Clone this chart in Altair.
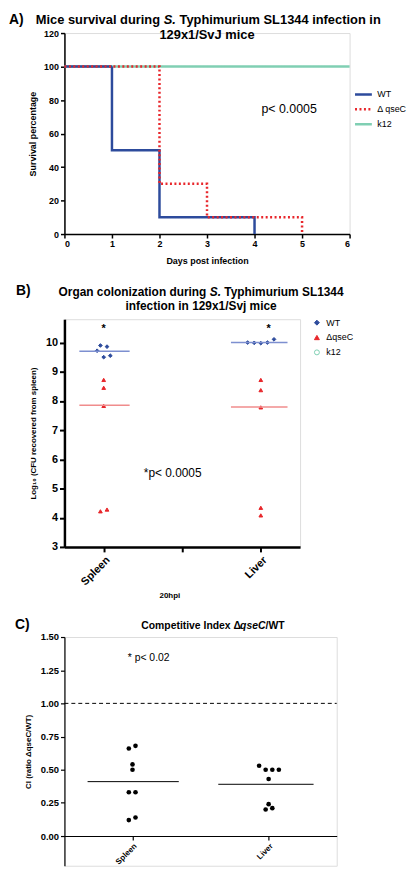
import altair as alt
import pandas as pd

FONT = "Liberation Sans"
BLUE = "#2d4b9c"
RED = "#e8262b"
GREEN = "#80cfb3"

# ---------------- Panel A : survival ----------------
strains_a = ["WT", "Δ qseC", "k12"]
wt_days = [0, 1, 2, 4]
wt_surv = [100, 50, 10, 0]
qsec_days = [0, 2, 3, 5]
qsec_surv = [100, 30, 10, 0]
k12_days = [0, 6]
k12_surv = [100, 100]
a_xticks = [0, 1, 2, 3, 4, 5, 6]
a_yticks = [0, 20, 40, 60, 80, 100, 120]

# ---------------- Panel B : organ colonisation ----------------
strains_b = ["WT", "ΔqseC", "k12"]
b_wt_spleen = [9.72, 9.90, 9.86, 9.50, 9.55]
b_wt_spleen_jit = [-0.084, -0.042, 0.042, 0.0, 0.084]
b_qs_spleen = [8.72, 8.45, 7.83, 4.22, 4.28]
b_qs_spleen_jit = [0.0, 0.0, 0.0, -0.042, 0.042]
b_wt_liver = [10.00, 9.99, 9.98, 10.00, 10.11]
b_wt_liver_jit = [-0.168, -0.084, 0.0, 0.084, 0.168]
b_qs_liver = [8.72, 8.37, 7.78, 4.34, 4.08]
b_qs_liver_jit = [0.0, 0.0, 0.0, 0.0, 0.0]
b_median_wt = [9.70, 10.00]
b_median_qs = [7.85, 7.79]
b_med_start = [-0.31, 1.62]
b_med_end = [0.33, 2.34]
b_yticks = [3, 4, 5, 6, 7, 8, 9, 10]

# ---------------- Panel C : competitive index ----------------
c_spleen = [0.66, 0.68, 0.54, 0.50, 0.33, 0.33, 0.12, 0.14]
c_spleen_jit = [-0.027, 0.022, 0.0, 0.0, -0.027, 0.022, -0.027, 0.022]
c_liver = [0.53, 0.50, 0.50, 0.50, 0.43, 0.24, 0.20, 0.21]
c_liver_jit = [-0.07, -0.022, 0.027, 0.075, 0.0, 0.0, -0.022, 0.027]
c_median = [0.41, 0.39]
c_med_start = [0.17, 1.13]
c_med_end = [0.84, 1.83]
c_yticks = [0.0, 0.25, 0.5, 0.75, 1.0, 1.25, 1.5]


def label(text, x, y, size, weight="normal", style="normal", align="left",
          baseline="alphabetic", color="black"):
    return alt.Chart(pd.DataFrame({"t": [text]})).mark_text(
        font=FONT, fontSize=size, fontWeight=weight, fontStyle=style,
        align=align, baseline=baseline, color=color
    ).encode(x=alt.value(x), y=alt.value(y), text="t:N")


def axis_style(dw, tw, lsize, tsize, tick=4):
    return dict(domainColor="black", domainWidth=dw, tickColor="black", tickWidth=tw,
                tickSize=tick, labelFont=FONT, labelFontSize=lsize, labelFontWeight="bold",
                labelColor="black", titleFont=FONT, titleFontSize=tsize,
                titleFontWeight="bold", titleColor="black", grid=False, labelPadding=2,
                labelOverlap=False, labelBound=False)


# ===== Panel A =====
WA, HA = 288, 203
df_a = pd.DataFrame({
    "day": k12_days + wt_days + qsec_days,
    "pct": k12_surv + wt_surv + qsec_surv,
    "strain": ["k12"] * len(k12_days) + ["WT"] * len(wt_days) + ["Δ qseC"] * len(qsec_days),
})
axA = axis_style(1.5, 1.5, 9, 9)
legA = alt.Legend(title=None, orient="none", legendX=292, legendY=52, symbolType="stroke",
                  symbolSize=289, symbolStrokeWidth=2.5, labelFont=FONT, labelFontSize=9,
                  labelColor="black", rowPadding=0, labelOffset=4)
lines_a = alt.Chart(df_a).mark_line(interpolate="step-after").encode(
    x=alt.X("day:Q", scale=alt.Scale(domain=[0, 6], nice=False, zero=False),
            axis=alt.Axis(values=a_xticks, title="Days post infection", titlePadding=8, **axA)),
    y=alt.Y("pct:Q", scale=alt.Scale(domain=[0, 120], nice=False),
            axis=alt.Axis(values=a_yticks, title="Survival percentage", titlePadding=6, **axA)),
    color=alt.Color("strain:N", scale=alt.Scale(domain=strains_a, range=[BLUE, RED, GREEN]), legend=legA),
    strokeDash=alt.StrokeDash("strain:N", scale=alt.Scale(domain=strains_a, range=[[1, 0], [2, 2.5], [1, 0]]), legend=legA),
    strokeWidth=alt.StrokeWidth("strain:N", scale=alt.Scale(domain=strains_a, range=[2.5, 2.5, 1.6]), legend=None),
)
panel_a = alt.layer(
    lines_a,
    label("A)", -56, -9, 14, "bold"),
    label("Mice survival during", -29, -9, 13, "bold"),
    label("S.", 100.3, -9, 13, "bold", "italic"),
    label("Typhimurium SL1344 infection in", 116.2, -9, 13, "bold"),
    label("129x1/SvJ mice", 144, 6, 13, "bold", align="center"),
    label("p< 0.0005", 199, 77, 12.5, baseline="middle"),
).properties(width=WA, height=HA)

# ===== Panel B =====
WB, HB = 238, 230
pos, val, strain = [], [], []
for center, wt, wtj, qs, qsj in [(0, b_wt_spleen, b_wt_spleen_jit, b_qs_spleen, b_qs_spleen_jit),
                                 (2, b_wt_liver, b_wt_liver_jit, b_qs_liver, b_qs_liver_jit)]:
    pos += [center + j for j in wtj] + [center + j for j in qsj]
    val += wt + qs
    strain += ["WT"] * len(wt) + ["ΔqseC"] * len(qs)
df_b = pd.DataFrame({"pos": pos, "cfu": val, "strain": strain})
df_bmed = pd.DataFrame({"pos": b_med_start * 2, "pos2": b_med_end * 2,
                        "cfu": b_median_wt + b_median_qs,
                        "strain": ["WT", "WT", "ΔqseC", "ΔqseC"]})
axB = axis_style(2.5, 2, 11, 8, tick=5)
legB = alt.Legend(title=None, orient="none", legendX=250.5, legendY=-1, symbolSize=25,
                  labelFont=FONT, labelFontSize=9, labelColor="black", rowPadding=5,
                  labelOffset=5, symbolStrokeWidth=1)
xB = alt.X("pos:Q", scale=alt.Scale(domain=[-0.5, 2.5], nice=False, zero=False),
           axis=alt.Axis(values=[0, 1, 2], labelAngle=315,
                         labelExpr="datum.value == 0 ? 'Spleen' : datum.value == 2 ? 'Liver' : ''",
                         title="20hpi", titleX=106, titleY=49, titleBaseline="middle", **axB))
yB = alt.Y("cfu:Q", scale=alt.Scale(domain=[3, 10.8], nice=False, zero=False),
           axis=alt.Axis(values=b_yticks, title="Log₁₀ (CFU recovered from spleen)", titlePadding=8, **axB))
pts_b = alt.Chart(df_b).mark_point(size=14, strokeWidth=1, filled=True, opacity=1).encode(
    x=xB, y=yB,
    shape=alt.Shape("strain:N", scale=alt.Scale(domain=strains_b, range=["diamond", "triangle-up", "circle"]), legend=legB),
    stroke=alt.Stroke("strain:N", scale=alt.Scale(domain=strains_b, range=[BLUE, RED, GREEN]), legend=legB),
    fill=alt.Fill("strain:N", scale=alt.Scale(domain=strains_b, range=[BLUE, RED, "white"]), legend=legB),
)
med_wt = alt.Chart(df_bmed).transform_filter("datum.strain == 'WT'").mark_rule(
    color="#7d8fd0", strokeWidth=1.5).encode(x=xB, x2="pos2:Q", y=yB)
med_qs = alt.Chart(df_bmed).transform_filter("datum.strain == 'ΔqseC'").mark_rule(
    color="#f08c8c", strokeWidth=1.5).encode(x=xB, x2="pos2:Q", y=yB)
stars_b = alt.Chart(pd.DataFrame({"pos": [0.0, 2.1], "cfu": [10.55, 10.55], "t": ["*", "*"]})).mark_text(
    font=FONT, fontSize=11, fontWeight="bold", baseline="middle", dy=3).encode(x=xB, y=yB, text="t:N")
ptext_b = alt.Chart(pd.DataFrame({"pos": [0.51], "cfu": [5.53], "t": ["*p< 0.0005"]})).mark_text(
    font=FONT, fontSize=12, align="left", baseline="middle").encode(x=xB, y=yB, text="t:N")
panel_b = alt.layer(
    pts_b, med_wt, med_qs, stars_b, ptext_b,
    label("B)", -49, -24, 14, "bold"),
    label("Organ colonization during", -5.9, -23, 12, "bold"),
    label("S.", 146.8, -23, 12, "bold", "italic"),
    label("Typhimurium SL1344", 161.5, -23, 12, "bold"),
    label("infection in 129x1/Svj mice", 138, -9, 12, "bold", align="center"),
).properties(width=WB, height=HB)

# ===== Panel C =====
WC, HC = 275, 231
C_PX = 134.0  # pixels per CI unit
c_lo = 1.5 - HC / C_PX
cpos = [0.5 + j for j in c_spleen_jit] + [1.5 + j for j in c_liver_jit]
df_c = pd.DataFrame({"pos": cpos, "ci": c_spleen + c_liver})
df_cmed = pd.DataFrame({"pos": c_med_start, "pos2": c_med_end, "ci": c_median})
axC = axis_style(1.2, 1.2, 9.5, 8)
xC = alt.X("pos:Q", scale=alt.Scale(domain=[0, 2], nice=False, zero=False),
           axis=alt.Axis(values=[0.5, 1.5], labelAngle=315, offset=-(HC - 1.5 * C_PX),
                         labelExpr="datum.value == 0.5 ? 'Spleen' : 'Liver'", title=None,
                         **{**axC, "labelFontSize": 8}))
yC = alt.Y("ci:Q", scale=alt.Scale(domain=[c_lo, 1.5], nice=False, zero=False),
           axis=alt.Axis(values=c_yticks, format=".2f", title="CI (ratio ΔqseC/WT)", titlePadding=8, **axC))
pts_c = alt.Chart(df_c).mark_circle(size=22, color="black", opacity=1).encode(x=xC, y=yC)
med_c = alt.Chart(df_cmed).mark_rule(color="black", strokeWidth=1).encode(x=xC, x2="pos2:Q", y=yC)
ref_c = alt.Chart(pd.DataFrame({"pos": [0.0], "pos2": [2.0], "ci": [1.0]})).mark_rule(
    color="black", strokeWidth=1, strokeDash=[4, 3]).encode(x=xC, x2="pos2:Q", y=yC)
ptext_c = alt.Chart(pd.DataFrame({"pos": [0.465], "ci": [1.343], "t": ["*  p< 0.02"]})).mark_text(
    font=FONT, fontSize=10.5, align="left", baseline="middle").encode(x=xC, y=yC, text="t:N")
panel_c = alt.layer(
    pts_c, ref_c, med_c, ptext_c,
    label("C)", -50, -8, 14, "bold"),
    label("Competitive Index Δ", 77.6, -8, 10.5, "bold"),
    label("qseC", 177.4, -8, 10.5, "bold", "italic"),
    label("/WT", 203.1, -8, 10.5, "bold"),
).properties(width=WC, height=HC)

chart = alt.vconcat(panel_a, panel_b, panel_c, spacing=17).resolve_scale(
    color="independent", strokeDash="independent", strokeWidth="independent",
    shape="independent", stroke="independent", fill="independent",
    x="independent", y="independent"
).resolve_legend(
    color="independent", strokeDash="independent", shape="independent",
    stroke="independent", fill="independent"
).properties(
    padding={"left": 0, "top": 0, "right": 0, "bottom": 0}
).configure_view(stroke=None).configure(font=FONT)

chart.save("out.html", embed_options={"renderer": "svg", "actions": False})
